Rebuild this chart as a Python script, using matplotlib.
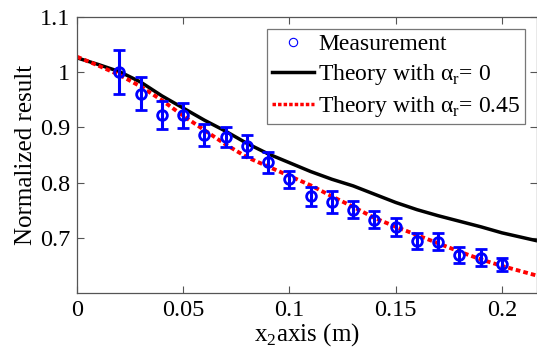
import matplotlib
matplotlib.use("Agg")
from matplotlib import pyplot as plt
from matplotlib.lines import Line2D

# measured points
x_meas = [0.02, 0.03, 0.04, 0.05, 0.06, 0.07, 0.08, 0.09, 0.10, 0.11,
          0.12, 0.13, 0.14, 0.15, 0.16, 0.17, 0.18, 0.19, 0.20]
y_meas = [1.000, 0.961, 0.922, 0.922, 0.886, 0.883, 0.867, 0.837, 0.806, 0.775,
          0.765, 0.751, 0.733, 0.719, 0.694, 0.693, 0.669, 0.664, 0.652]
y_err = [0.040, 0.030, 0.025, 0.023, 0.020, 0.018, 0.020, 0.019, 0.015, 0.017,
         0.020, 0.015, 0.016, 0.016, 0.015, 0.015, 0.014, 0.015, 0.012]

# theory curves
x_theory = [0.0, 0.01, 0.02, 0.03, 0.04, 0.05, 0.06, 0.07, 0.08, 0.09, 0.10,
            0.11, 0.12, 0.13, 0.14, 0.15, 0.16, 0.17, 0.18, 0.19, 0.20, 0.216]
y_alpha0 = [1.026, 1.014, 1.001, 0.982, 0.957, 0.935, 0.913, 0.893, 0.871, 0.852, 0.836,
            0.820, 0.806, 0.794, 0.779, 0.764, 0.751, 0.740, 0.730, 0.720, 0.709, 0.695]
y_alpha045 = [1.028, 1.012, 0.995, 0.974, 0.949, 0.921, 0.895, 0.869, 0.846, 0.829, 0.812,
              0.795, 0.775, 0.756, 0.736, 0.720, 0.705, 0.690, 0.675, 0.661, 0.649, 0.632]

x_ticks = [0, 0.05, 0.1, 0.15, 0.2]
x_ticklabels = ["0", "0.05", "0.1", "0.15", "0.2"]
y_ticks = [0.7, 0.8, 0.9, 1.0, 1.1]
y_ticklabels = ["0.7", "0.8", "0.9", "1", "1.1"]

plt.rcParams['font.family'] = ['Liberation Serif', 'DejaVu Serif']
plt.rcParams['mathtext.fontset'] = 'custom'
plt.rcParams['mathtext.rm'] = 'Liberation Serif'

fig = plt.figure(figsize=(5.37, 3.54), dpi=100)
ax = fig.add_axes([77 / 537, 1 - 293 / 354, 460 / 537, 276 / 354])

ax.plot(x_theory, y_alpha0, color='black', lw=2.5)
ax.plot(x_theory, y_alpha045, color='red', lw=2.8, linestyle=(0, (1.2, 0.8)))
ax.errorbar(x_meas, y_meas, yerr=y_err, fmt='o', color='blue', mfc='none',
            mec='blue', ms=7, mew=2, elinewidth=2.2, capsize=4, capthick=2.2)

ax.set_xlim(0, 0.2165)
ax.set_ylim(0.6, 1.1)
ax.set_xticks(x_ticks)
ax.set_xticklabels(x_ticklabels)
ax.set_yticks(y_ticks)
ax.set_yticklabels(y_ticklabels)
ax.tick_params(direction='in', top=True, right=True, labelsize=17.5,
               length=5, width=0.8, color='#555555', pad=5)
for s in ax.spines.values():
    s.set_color('#555555')
    s.set_linewidth(0.9)

ax.set_xlabel("x$_2$axis (m)", fontsize=18, labelpad=0)
ax.set_ylabel("Normalized result", fontsize=18, labelpad=2)

handles = [
    Line2D([], [], marker='o', color='blue', mfc='none', lw=0, ms=6, mew=0.8),
    Line2D([], [], color='black', lw=2.5),
    Line2D([], [], color='red', lw=2.5, linestyle=(0, (1, 0.6))),
]
labels = ["Measurement",
          "Theory with α$_{\\mathrm{r}}$= 0",
          "Theory with α$_{\\mathrm{r}}$= 0.45"]
leg = ax.legend(handles, labels, loc='upper right', fontsize=17,
                frameon=True, fancybox=False, edgecolor='#555555',
                borderpad=0.2, labelspacing=0.3, handlelength=1.8,
                handletextpad=0.15, borderaxespad=0.5)
leg.get_frame().set_linewidth(0.9)

plt.savefig('out.png', dpi=100)
